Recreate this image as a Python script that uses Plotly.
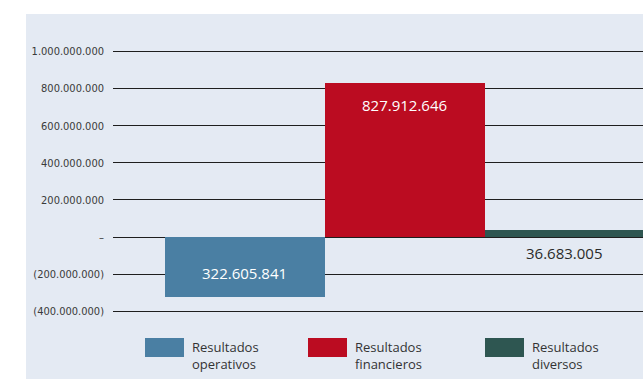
import plotly.graph_objects as go

# Results by source (pesos)
categories = ["Resultados operativos", "Resultados financieros", "Resultados diversos"]
values = [-322605841, 827912646, 36683005]
labels = ["322.605.841", "827.912.646", "36.683.005"]
legend_lines = ["Resultados<br>operativos", "Resultados<br>financieros", "Resultados<br>diversos"]
colors = ["#4a7fa3", "#bb0c21", "#2e5651"]

tick_vals = [1000000000, 800000000, 600000000, 400000000, 200000000, 0, -200000000, -400000000]
tick_text = ["1.000.000.000", "800.000.000", "600.000.000", "400.000.000", "200.000.000",
             "–", "(200.000.000)", "(400.000.000)"]

W, H = 643, 379
ML, MR, MT, MB = 113, 0, 14, 49
PW, PH = W - ML - MR, H - MT - MB


def px_x(p):
    return (p - ML) / PW


def px_y(p):
    return (H - MB - p) / PH


fig = go.Figure()
fig.add_trace(go.Bar(
    x=categories, y=values, width=1,
    marker=dict(color=colors, line=dict(width=0)),
    showlegend=False, hoverinfo="skip",
))

# value labels
label_font = dict(family="Open Sans, sans-serif", size=15)
shifts = [24, -22, -16]
anchors = [values[0], values[1], 0]
label_colors = ["white", "white", "#2a2a2a"]
for cat, lab, yv, sh, col in zip(categories, labels, anchors, shifts, label_colors):
    fig.add_annotation(x=cat, y=yv, xref="x", yref="y", text=lab, showarrow=False,
                       yshift=sh, font=dict(label_font, color=col))

# background panel
fig.add_shape(type="rect", xref="paper", yref="paper", layer="below",
              x0=px_x(26), x1=1.0, y0=px_y(H), y1=1.0,
              fillcolor="#e4eaf3", line=dict(width=0))

# legend swatches and texts
legend_x = [145, 308, 485]
legend_font = dict(family="Open Sans, sans-serif", size=13, color="#333")
for lx, col, txt in zip(legend_x, colors, legend_lines):
    fig.add_shape(type="rect", xref="paper", yref="paper",
                  x0=px_x(lx), x1=px_x(lx + 39), y0=px_y(357), y1=px_y(338),
                  fillcolor=col, line=dict(width=0))
    fig.add_annotation(xref="paper", yref="paper", x=px_x(lx + 46), y=px_y(355),
                       xanchor="left", yanchor="middle", align="left", showarrow=False,
                       borderpad=0, text=txt, font=legend_font)

fig.update_layout(
    width=W, height=H,
    margin=dict(l=ML, r=MR, t=MT, b=MB),
    paper_bgcolor="white", plot_bgcolor="rgba(0,0,0,0)",
    bargap=0,
    xaxis=dict(visible=False, range=[-0.825, 2.49]),
    yaxis=dict(
        range=[-501300000, 1202000000],
        tickvals=tick_vals, ticktext=tick_text,
        showgrid=True, gridcolor="#1e1e1e", gridwidth=1.4,
        zeroline=False, showline=False, ticks="",
        ticklabelstandoff=8,
        tickfont=dict(family="DejaVu Sans Condensed, sans-serif",
                      size=11, color="#3a3a3a"),
    ),
)

fig.write_html("out.html")
